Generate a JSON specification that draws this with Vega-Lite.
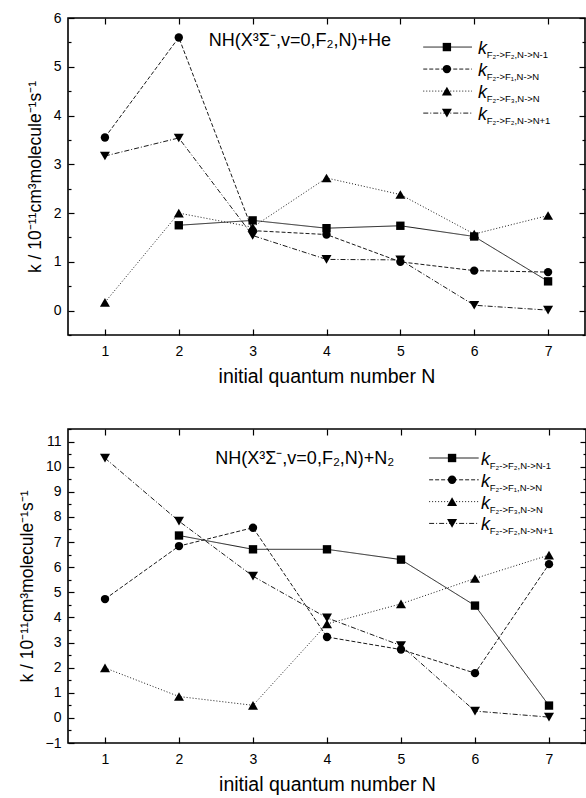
{
  "$schema": "https://vega.github.io/schema/vega-lite/v6.json",
  "padding": {"left": 17, "top": 10, "right": 0, "bottom": 0},
  "background": "white",
  "config": {
    "view": {"stroke": "black", "strokeWidth": 1.6},
    "font": "Liberation Sans",
    "axis": {"domain": false, "grid": false, "labelFont": "Liberation Sans", "labelFontSize": 14, "labelColor": "black", "titleFont": "Liberation Sans", "titleFontSize": 17.5, "titleFontWeight": "normal", "titleColor": "black", "tickColor": "black", "tickWidth": 1.2, "labelFlush": false, "labelOverlap": false},
    "axisX": {"titleFontSize": 19.5}
  },
  "datasets": {
    "he": [
      {"N": 2, "k": 1.75, "s": "N-1"}, {"N": 3, "k": 1.85, "s": "N-1"}, {"N": 4, "k": 1.69, "s": "N-1"}, {"N": 5, "k": 1.74, "s": "N-1"}, {"N": 6, "k": 1.52, "s": "N-1"}, {"N": 7, "k": 0.6, "s": "N-1"},
      {"N": 1, "k": 3.55, "s": "F1"}, {"N": 2, "k": 5.6, "s": "F1"}, {"N": 3, "k": 1.64, "s": "F1"}, {"N": 4, "k": 1.56, "s": "F1"}, {"N": 5, "k": 1.0, "s": "F1"}, {"N": 6, "k": 0.82, "s": "F1"}, {"N": 7, "k": 0.79, "s": "F1"},
      {"N": 1, "k": 0.17, "s": "F3"}, {"N": 2, "k": 2.0, "s": "F3"}, {"N": 3, "k": 1.71, "s": "F3"}, {"N": 4, "k": 2.72, "s": "F3"}, {"N": 5, "k": 2.38, "s": "F3"}, {"N": 6, "k": 1.57, "s": "F3"}, {"N": 7, "k": 1.95, "s": "F3"},
      {"N": 1, "k": 3.17, "s": "N+1"}, {"N": 2, "k": 3.54, "s": "N+1"}, {"N": 3, "k": 1.54, "s": "N+1"}, {"N": 4, "k": 1.05, "s": "N+1"}, {"N": 5, "k": 1.04, "s": "N+1"}, {"N": 6, "k": 0.11, "s": "N+1"}, {"N": 7, "k": 0.01, "s": "N+1"}
    ],
    "n2": [
      {"N": 2, "k": 7.26, "s": "N-1"}, {"N": 3, "k": 6.71, "s": "N-1"}, {"N": 4, "k": 6.71, "s": "N-1"}, {"N": 5, "k": 6.3, "s": "N-1"}, {"N": 6, "k": 4.47, "s": "N-1"}, {"N": 7, "k": 0.49, "s": "N-1"},
      {"N": 1, "k": 4.73, "s": "F1"}, {"N": 2, "k": 6.84, "s": "F1"}, {"N": 3, "k": 7.57, "s": "F1"}, {"N": 4, "k": 3.22, "s": "F1"}, {"N": 5, "k": 2.72, "s": "F1"}, {"N": 6, "k": 1.78, "s": "F1"}, {"N": 7, "k": 6.12, "s": "F1"},
      {"N": 1, "k": 1.99, "s": "F3"}, {"N": 2, "k": 0.85, "s": "F3"}, {"N": 3, "k": 0.5, "s": "F3"}, {"N": 4, "k": 3.74, "s": "F3"}, {"N": 5, "k": 4.54, "s": "F3"}, {"N": 6, "k": 5.55, "s": "F3"}, {"N": 7, "k": 6.48, "s": "F3"},
      {"N": 1, "k": 10.34, "s": "N+1"}, {"N": 2, "k": 7.83, "s": "N+1"}, {"N": 3, "k": 5.64, "s": "N+1"}, {"N": 4, "k": 3.98, "s": "N+1"}, {"N": 5, "k": 2.88, "s": "N+1"}, {"N": 6, "k": 0.27, "s": "N+1"}, {"N": 7, "k": 0.03, "s": "N+1"}
    ],
    "leg": [
      {"s": "N-1", "rank": 1, "sub": "F₂->F₂,N->N-1"},
      {"s": "F1", "rank": 2, "sub": "F₂->F₁,N->N"},
      {"s": "F3", "rank": 3, "sub": "F₂->F₃,N->N"},
      {"s": "N+1", "rank": 4, "sub": "F₂->F₂,N->N+1"}
    ]
  },
  "columns": 1,
  "align": "none",
  "spacing": 34,
  "concat": [
    {
      "width": 517,
      "height": 317,
      "resolve": {"scale": {"y": "independent"}, "axis": {"x": "independent", "y": "independent"}},
      "layer": [
        {
          "data": {"name": "he"},
          "mark": {"type": "line", "color": "#1a1a1a", "strokeWidth": 1},
          "encoding": {
            "x": {"field": "N", "type": "quantitative", "scale": {"domain": [0.5, 7.5], "nice": false, "zero": false},
                  "axis": {"orient": "bottom", "values": [1, 2, 3, 4, 5, 6, 7], "tickSize": -6, "labelPadding": 15, "title": "initial quantum number N", "titlePadding": 9}},
            "y": {"field": "k", "type": "quantitative", "scale": {"domain": [-0.5, 6], "nice": false, "zero": false},
                  "axis": {"orient": "left", "values": [-0.5, 0, 0.5, 1, 1.5, 2, 2.5, 3, 3.5, 4, 4.5, 5, 5.5, 6], "labelExpr": "datum.value % 1 === 0 ? format(datum.value, 'd') : ''", "tickSize": {"condition": {"test": "datum.value % 1 === 0", "value": -6}, "value": -3}, "labelPadding": 13, "title": "k / 10⁻¹¹cm³molecule⁻¹s⁻¹", "titlePadding": 9}},
            "strokeDash": {"field": "s", "type": "nominal", "scale": {"domain": ["N-1", "F1", "F3", "N+1"], "range": [[1, 0], [4, 2], [1, 2], [5, 2, 1, 2]]}, "legend": null}
          }
        },
        {
          "data": {"name": "he"},
          "mark": {"type": "point", "filled": true, "color": "black", "opacity": 1},
          "encoding": {
            "x": {"field": "N", "type": "quantitative", "axis": {"orient": "top", "values": [1, 2, 3, 4, 5, 6, 7], "labels": false, "tickSize": -6, "title": null}},
            "y": {"field": "k", "type": "quantitative", "scale": {"domain": [-0.5, 6], "nice": false, "zero": false},
                  "axis": {"orient": "right", "values": [-0.5, 0, 0.5, 1, 1.5, 2, 2.5, 3, 3.5, 4, 4.5, 5, 5.5, 6], "labels": false, "tickSize": {"condition": {"test": "datum.value % 1 === 0", "value": -6}, "value": -3}, "title": null}},
            "shape": {"field": "s", "type": "nominal", "scale": {"domain": ["N-1", "F1", "F3", "N+1"], "range": ["square", "circle", "triangle-up", "triangle-down"]}, "legend": null},
            "size": {"field": "s", "type": "nominal", "scale": {"type": "ordinal", "domain": ["N-1", "F1", "F3", "N+1"], "range": [70, 70, 100, 100]}, "legend": null}
          }
        },
        {
          "data": {"name": "leg"},
          "mark": {"type": "rule", "color": "#1a1a1a", "strokeWidth": 1},
          "encoding": {
            "x": {"datum": 5.31, "type": "quantitative", "axis": null},
            "x2": {"datum": 5.97},
            "y": {"field": "rank", "type": "quantitative", "scale": {"domain": [-0.32, 14.08], "reverse": true, "nice": false, "zero": false}, "axis": null},
            "strokeDash": {"field": "s", "type": "nominal", "scale": {"domain": ["N-1", "F1", "F3", "N+1"], "range": [[1, 0], [4, 2], [1, 2], [5, 2, 1, 2]]}, "legend": null}
          }
        },
        {
          "data": {"name": "leg"},
          "mark": {"type": "point", "filled": true, "color": "black", "opacity": 1},
          "encoding": {
            "x": {"datum": 5.63, "type": "quantitative", "axis": null},
            "y": {"field": "rank", "type": "quantitative", "scale": {"domain": [-0.32, 14.08], "reverse": true, "nice": false, "zero": false}, "axis": null},
            "shape": {"field": "s", "type": "nominal", "scale": {"domain": ["N-1", "F1", "F3", "N+1"], "range": ["square", "circle", "triangle-up", "triangle-down"]}, "legend": null},
            "size": {"field": "s", "type": "nominal", "scale": {"type": "ordinal", "domain": ["N-1", "F1", "F3", "N+1"], "range": [70, 70, 100, 100]}, "legend": null}
          }
        },
        {
          "data": {"name": "leg"},
          "mark": {"type": "text", "fontStyle": "italic", "fontSize": 18, "align": "left", "baseline": "alphabetic", "dy": 7, "color": "black"},
          "encoding": {
            "x": {"datum": 6.05, "type": "quantitative", "axis": null},
            "y": {"field": "rank", "type": "quantitative", "scale": {"domain": [-0.32, 14.08], "reverse": true, "nice": false, "zero": false}, "axis": null},
            "text": {"value": "k"}
          }
        },
        {
          "data": {"name": "leg"},
          "mark": {"type": "text", "fontSize": 9.5, "align": "left", "baseline": "alphabetic", "dy": 11, "color": "black"},
          "encoding": {
            "x": {"datum": 6.17, "type": "quantitative", "axis": null},
            "y": {"field": "rank", "type": "quantitative", "scale": {"domain": [-0.32, 14.08], "reverse": true, "nice": false, "zero": false}, "axis": null},
            "text": {"field": "sub"}
          }
        },
        {
          "data": {"values": [{"label": "NH(X³Σ⁻,v=0,F₂,N)+He"}]},
          "mark": {"type": "text", "fontSize": 18, "align": "center", "baseline": "alphabetic", "color": "black"},
          "encoding": {
            "x": {"datum": 3.64, "type": "quantitative", "axis": null},
            "y": {"datum": 5.43, "type": "quantitative", "scale": {"domain": [-0.5, 6], "nice": false, "zero": false}, "axis": null},
            "text": {"field": "label"}
          }
        }
      ]
    },
    {
      "width": 518,
      "height": 314,
      "resolve": {"scale": {"y": "independent"}, "axis": {"x": "independent", "y": "independent"}},
      "layer": [
        {
          "data": {"name": "n2"},
          "mark": {"type": "line", "color": "#1a1a1a", "strokeWidth": 1},
          "encoding": {
            "x": {"field": "N", "type": "quantitative", "scale": {"domain": [0.5, 7.5], "nice": false, "zero": false},
                  "axis": {"orient": "bottom", "values": [1, 2, 3, 4, 5, 6, 7], "tickSize": -6, "labelPadding": 15, "title": "initial quantum number N", "titlePadding": 9}},
            "y": {"field": "k", "type": "quantitative", "scale": {"domain": [-1, 11.5], "nice": false, "zero": false},
                  "axis": {"orient": "left", "values": [-1, -0.5, 0, 0.5, 1, 1.5, 2, 2.5, 3, 3.5, 4, 4.5, 5, 5.5, 6, 6.5, 7, 7.5, 8, 8.5, 9, 9.5, 10, 10.5, 11, 11.5], "labelExpr": "datum.value % 1 === 0 ? format(datum.value, 'd') : ''", "tickSize": {"condition": {"test": "datum.value % 1 === 0", "value": -6}, "value": -3}, "labelPadding": 13, "title": "k / 10⁻¹¹cm³molecule⁻¹s⁻¹", "titlePadding": 9}},
            "strokeDash": {"field": "s", "type": "nominal", "scale": {"domain": ["N-1", "F1", "F3", "N+1"], "range": [[1, 0], [4, 2], [1, 2], [5, 2, 1, 2]]}, "legend": null}
          }
        },
        {
          "data": {"name": "n2"},
          "mark": {"type": "point", "filled": true, "color": "black", "opacity": 1},
          "encoding": {
            "x": {"field": "N", "type": "quantitative", "axis": {"orient": "top", "values": [1, 2, 3, 4, 5, 6, 7], "labels": false, "tickSize": -6, "title": null}},
            "y": {"field": "k", "type": "quantitative", "scale": {"domain": [-1, 11.5], "nice": false, "zero": false},
                  "axis": {"orient": "right", "values": [-1, -0.5, 0, 0.5, 1, 1.5, 2, 2.5, 3, 3.5, 4, 4.5, 5, 5.5, 6, 6.5, 7, 7.5, 8, 8.5, 9, 9.5, 10, 10.5, 11, 11.5], "labels": false, "tickSize": {"condition": {"test": "datum.value % 1 === 0", "value": -6}, "value": -3}, "title": null}},
            "shape": {"field": "s", "type": "nominal", "scale": {"domain": ["N-1", "F1", "F3", "N+1"], "range": ["square", "circle", "triangle-up", "triangle-down"]}, "legend": null},
            "size": {"field": "s", "type": "nominal", "scale": {"type": "ordinal", "domain": ["N-1", "F1", "F3", "N+1"], "range": [70, 70, 100, 100]}, "legend": null}
          }
        },
        {
          "data": {"name": "leg"},
          "mark": {"type": "rule", "color": "#1a1a1a", "strokeWidth": 1},
          "encoding": {
            "x": {"datum": 5.38, "type": "quantitative", "axis": null},
            "x2": {"datum": 6.05},
            "y": {"field": "rank", "type": "quantitative", "scale": {"domain": [-0.33, 14.07], "reverse": true, "nice": false, "zero": false}, "axis": null},
            "strokeDash": {"field": "s", "type": "nominal", "scale": {"domain": ["N-1", "F1", "F3", "N+1"], "range": [[1, 0], [4, 2], [1, 2], [5, 2, 1, 2]]}, "legend": null}
          }
        },
        {
          "data": {"name": "leg"},
          "mark": {"type": "point", "filled": true, "color": "black", "opacity": 1},
          "encoding": {
            "x": {"datum": 5.69, "type": "quantitative", "axis": null},
            "y": {"field": "rank", "type": "quantitative", "scale": {"domain": [-0.33, 14.07], "reverse": true, "nice": false, "zero": false}, "axis": null},
            "shape": {"field": "s", "type": "nominal", "scale": {"domain": ["N-1", "F1", "F3", "N+1"], "range": ["square", "circle", "triangle-up", "triangle-down"]}, "legend": null},
            "size": {"field": "s", "type": "nominal", "scale": {"type": "ordinal", "domain": ["N-1", "F1", "F3", "N+1"], "range": [70, 70, 100, 100]}, "legend": null}
          }
        },
        {
          "data": {"name": "leg"},
          "mark": {"type": "text", "fontStyle": "italic", "fontSize": 18, "align": "left", "baseline": "alphabetic", "dy": 7, "color": "black"},
          "encoding": {
            "x": {"datum": 6.08, "type": "quantitative", "axis": null},
            "y": {"field": "rank", "type": "quantitative", "scale": {"domain": [-0.33, 14.07], "reverse": true, "nice": false, "zero": false}, "axis": null},
            "text": {"value": "k"}
          }
        },
        {
          "data": {"name": "leg"},
          "mark": {"type": "text", "fontSize": 9.5, "align": "left", "baseline": "alphabetic", "dy": 11, "color": "black"},
          "encoding": {
            "x": {"datum": 6.2, "type": "quantitative", "axis": null},
            "y": {"field": "rank", "type": "quantitative", "scale": {"domain": [-0.33, 14.07], "reverse": true, "nice": false, "zero": false}, "axis": null},
            "text": {"field": "sub"}
          }
        },
        {
          "data": {"values": [{"label": "NH(X³Σ⁻,v=0,F₂,N)+N₂"}]},
          "mark": {"type": "text", "fontSize": 18, "align": "center", "baseline": "alphabetic", "color": "black"},
          "encoding": {
            "x": {"datum": 3.7, "type": "quantitative", "axis": null},
            "y": {"datum": 10.11, "type": "quantitative", "scale": {"domain": [-1, 11.5], "nice": false, "zero": false}, "axis": null},
            "text": {"field": "label"}
          }
        }
      ]
    }
  ]
}
